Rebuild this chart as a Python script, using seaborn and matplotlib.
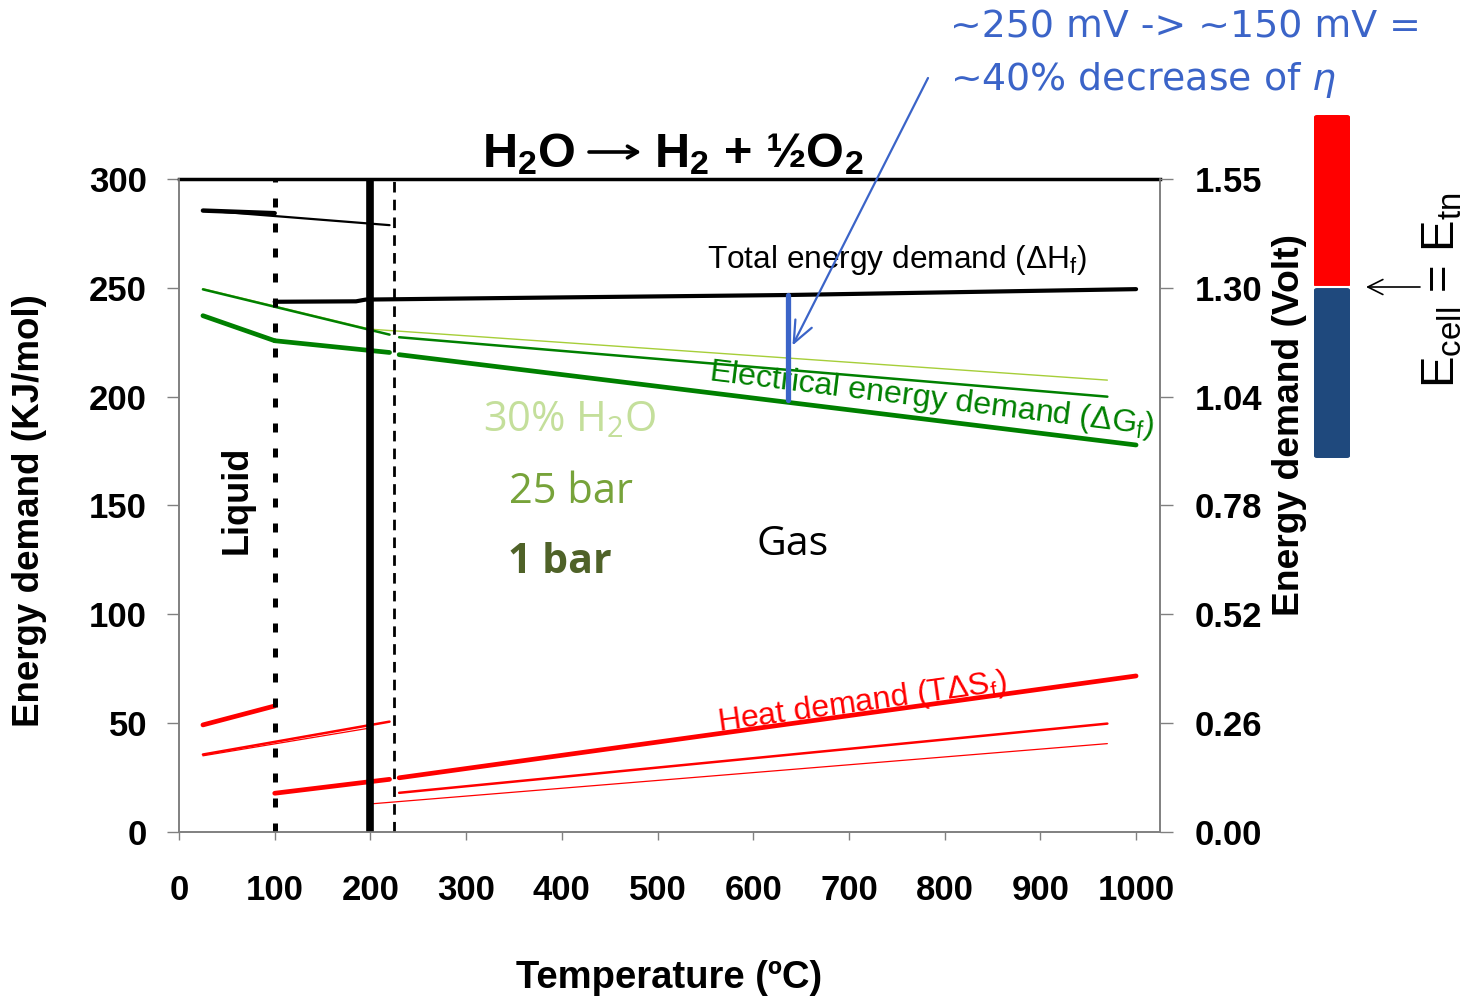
"""
Demanda energética de la electrólisis del agua frente a la temperatura
"""
import matplotlib.pyplot as plt
import seaborn as sns
from matplotlib.patches import FancyBboxPatch

# Datos: temperatura (ºC) y energía (kJ/mol)
# --- 1 bar ---
h1_liq_T = [25, 100]
h1_liq = [285.5, 284.3]
h1_gas_T = [100, 185, 195, 400, 636, 1000]
h1_gas = [243.6, 243.8, 244.6, 245.6, 246.7, 249.4]
g1_liq_T = [25, 100]
g1_liq = [237.2, 225.7]
g1_gas_a_T = [100, 220]
g1_gas_a = [225.7, 220.3]
g1_gas_b_T = [230, 1000]
g1_gas_b = [219.3, 177.8]
s1_liq_T = [25, 100]
s1_liq = [49.2, 57.9]
s1_gas_a_T = [100, 220]
s1_gas_a = [17.8, 24.2]
s1_gas_b_T = [230, 1000]
s1_gas_b = [24.9, 71.7]

# --- 25 bar ---
h25_T = [25, 220]
h25 = [285.6, 278.8]
g25_a_T = [25, 220]
g25_a = [249.3, 228.5]
g25_b_T = [230, 970]
g25_b = [227.3, 200.0]
s25_a_T = [25, 220]
s25_a = [35.6, 50.7]
s25_b_T = [230, 970]
s25_b = [18.0, 49.8]

# --- 30% H2O ---
g30_T = [25, 200, 970]
g30 = [249.6, 231.0, 207.6]
s30_T = [25, 200, 200, 970]
s30 = [35.0, 47.8, 12.9, 40.6]

# Reducción del sobrepotencial (barra azul)
eta_T = [636, 636]
eta_E = [246.7, 198.4]

# Cambios de fase
T_boil_1bar = 100
T_boil_25bar = 200
T_boil_30 = 225

y_ticks = [0, 50, 100, 150, 200, 250, 300]
x_ticks = [0, 100, 200, 300, 400, 500, 600, 700, 800, 900, 1000]
volt_labels = ['0.00', '0.26', '0.52', '0.78', '1.04', '1.30', '1.55']

sns.set_theme(style='white')
plt.rcParams['font.family'] = ['Liberation Sans', 'DejaVu Sans']
plt.rcParams['mathtext.default'] = 'regular'
plt.rcParams['text.color'] = 'black'
plt.rcParams['axes.labelcolor'] = 'black'
plt.rcParams['xtick.color'] = 'black'
plt.rcParams['ytick.color'] = 'black'

fig = plt.figure(figsize=(14.72, 10), dpi=100)
ax = fig.add_axes([179 / 1472, 1 - 832 / 1000, 981 / 1472, 653 / 1000])


def linea(x, y, color, lw, z=3):
    sns.lineplot(x=x, y=y, ax=ax, color=color, linewidth=lw,
                 estimator=None, sort=False, zorder=z)


# Energía total (ΔH)
linea(h1_liq_T, h1_liq, 'black', 3.2)
linea(h1_gas_T, h1_gas, 'black', 3.0)
linea(h25_T, h25, 'black', 1.6)

# Energía eléctrica (ΔG)
linea(g30_T, g30, '#A6CE39', 1.0)
linea(g25_a_T, g25_a, '#008000', 1.8)
linea(g25_b_T, g25_b, '#008000', 1.8)
linea(g1_liq_T, g1_liq, '#008000', 3.4)
linea(g1_gas_a_T, g1_gas_a, '#008000', 3.4)
linea(g1_gas_b_T, g1_gas_b, '#008000', 3.4)

# Calor (TΔS)
linea(s30_T, s30, '#FF0000', 0.9)
linea(s25_a_T, s25_a, '#FF0000', 1.8)
linea(s25_b_T, s25_b, '#FF0000', 1.8)
linea(s1_liq_T, s1_liq, '#FF0000', 3.4)
linea(s1_gas_a_T, s1_gas_a, '#FF0000', 3.4)
linea(s1_gas_b_T, s1_gas_b, '#FF0000', 3.4)

# Líneas de cambio de fase
ax.axvline(T_boil_1bar, color='black', lw=3.6, linestyle=(0, (1.8, 3.2)), zorder=5)
ax.axvline(T_boil_25bar, color='black', lw=5.5, zorder=5)
ax.axvline(T_boil_30, color='black', lw=2.0, linestyle=(0, (3.8, 2.6)), zorder=5)

# Barra azul
linea(eta_T, eta_E, '#3B64C8', 3.8, z=6)

ax.set_xlim(0, 1025)
ax.set_ylim(0, 300)
ax.set_xticks(x_ticks)
ax.set_yticks(y_ticks)
ax.tick_params(axis='both', labelsize=25, labelcolor='black')
ax.tick_params(axis='y', length=9, width=1, color='#808080', pad=14, direction='out', left=True)
ax.tick_params(axis='x', length=6, width=1, color='#808080', pad=24, direction='out', bottom=True)
for lbl in ax.get_xticklabels() + ax.get_yticklabels():
    lbl.set_fontweight('bold')

for s in ['left', 'bottom', 'right']:
    ax.spines[s].set_color('#808080')
    ax.spines[s].set_linewidth(1.2)
ax.spines['top'].set_color('black')
ax.spines['top'].set_linewidth(2.5)

ax.set_xlabel('Temperature (ºC)', fontsize=27.5, fontweight='bold')
ax.xaxis.label.set_va('center')
ax.xaxis.set_label_coords(0.5, -0.2236)
ax.set_ylabel('Energy demand (KJ/mol)', fontsize=26.5, fontweight='bold')
ax.yaxis.label.set_va('center')
ax.yaxis.set_label_coords(-0.152, 0.493)

# Eje derecho en voltios
ax2 = ax.twinx()
ax2.set_ylim(0, 300)
ax2.set_yticks(y_ticks)
ax2.set_yticklabels(volt_labels, fontsize=25, fontweight='bold')
ax2.tick_params(axis='y', length=9, width=1, color='#808080', labelcolor='black',
                pad=16, direction='out', right=True)
for s in ['left', 'bottom', 'right']:
    ax2.spines[s].set_color('#808080')
    ax2.spines[s].set_linewidth(1.2)
ax2.spines['top'].set_visible(False)
ax2.set_ylabel('Energy demand (Volt)', fontsize=26.8, fontweight='bold')
ax2.yaxis.label.set_va('center')
ax2.yaxis.set_label_coords(1.1325, 0.623)

# Textos dentro del gráfico
ax.text(60.6, 152.5, 'Liquid', rotation=90, fontsize=26, fontweight='bold',
        ha='center', va='center')
calibri = ['Open Sans', 'DejaVu Sans']
ax.text(641, 131.8, 'Gas', fontsize=29.5, family=calibri, ha='center', va='center')
ax.text(408, 189.3, '30% H$_2$O', fontsize=30, family=calibri, color='#C4DF9B',
        ha='center', va='center')
ax.text(409, 156.2, '25 bar', fontsize=30, family=calibri, color='#77A33A',
        ha='center', va='center')
ax.text(398, 123.6, '1 bar', fontsize=29.5, family=calibri, color='#4F6228',
        fontweight='bold', ha='center', va='center')
ax.text(750, 262.7, 'Total energy demand (ΔH$_f$)', fontsize=22.8,
        ha='center', va='center')
ax.text(786, 198.8, 'Electrical energy demand (ΔG$_f$)', fontsize=23.2, color='#008000',
        rotation=-7, rotation_mode='anchor', ha='center', va='center')
ax.text(714, 59.3, 'Heat demand (TΔS$_f$)', fontsize=23, color='#FF0000',
        rotation=8, rotation_mode='anchor', ha='center', va='center')

# Título (flecha dibujada aparte)
fig.text(576 / 1472, 1 - 167 / 1000, 'H$_2$O', fontsize=35,
         fontweight='bold', ha='right', va='baseline')
fig.text(654 / 1472, 1 - 167 / 1000, 'H$_2$ + ½O$_2$', fontsize=35,
         fontweight='bold', ha='left', va='baseline')
ax.annotate('', xy=(641 / 1472, 1 - 152 / 1000), xycoords='figure fraction',
            xytext=(589 / 1472, 1 - 152 / 1000), textcoords='figure fraction',
            arrowprops=dict(arrowstyle='->,head_length=0.6,head_width=0.35',
                            color='black', lw=2.6, shrinkA=0, shrinkB=0),
            annotation_clip=False)

# Anotación azul
azul = '#3B64C8'
fig.text(950 / 1472, 1 - 27 / 1000, '~250 mV -> ~150 mV =', fontsize=27.3, color=azul,
         family=['DejaVu Sans'], ha='left', va='center')
fig.text(950 / 1472, 1 - 80 / 1000, r'~40% decrease of $\mathit{\eta}$', fontsize=27.3,
         color=azul, family=['DejaVu Sans'], ha='left', va='center')
ax.annotate('', xy=(641, 223.5), xycoords='data',
            xytext=(928 / 1472, 1 - 78 / 1000), textcoords='figure fraction',
            arrowprops=dict(arrowstyle='->,head_length=1.3,head_width=0.55',
                            color=azul, lw=1.6, shrinkA=0, shrinkB=0),
            annotation_clip=False)

# Barra E_cell = E_tn
fig.add_artist(FancyBboxPatch((1314 / 1472, 1 - 287 / 1000), 36 / 1472, 172 / 1000,
                              boxstyle='round,pad=0,rounding_size=0.002',
                              facecolor='#FF0000', edgecolor='none'))
fig.add_artist(FancyBboxPatch((1314 / 1472, 1 - 458 / 1000), 36 / 1472, 170 / 1000,
                              boxstyle='round,pad=0,rounding_size=0.002',
                              facecolor='#1F497D', edgecolor='none'))
fig.add_artist(plt.Line2D([1314 / 1472, 1350 / 1472], [1 - 287 / 1000] * 2,
                          color='white', lw=1.5))
ax.annotate('', xy=(1366 / 1472, 1 - 287 / 1000), xycoords='figure fraction',
            xytext=(1420 / 1472, 1 - 287 / 1000), textcoords='figure fraction',
            arrowprops=dict(arrowstyle='->,head_length=0.9,head_width=0.45',
                            color='black', lw=1.2, shrinkA=0, shrinkB=0),
            annotation_clip=False)
fig.text(1442 / 1472, 1 - 290 / 1000, 'E$_{cell}$ = E$_{tn}$', fontsize=34,
         rotation=90, ha='center', va='center')

fig.savefig('out.png', dpi=100)
